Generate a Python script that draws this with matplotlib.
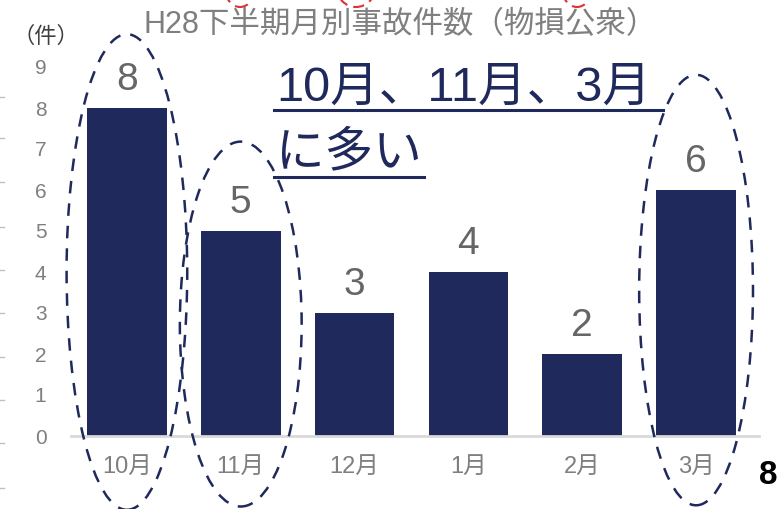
import matplotlib
matplotlib.use('Agg')
import matplotlib.pyplot as plt
from matplotlib.patches import Ellipse
from matplotlib.lines import Line2D

plt.rcParams['font.family'] = ['Liberation Sans', 'Noto Sans CJK JP', 'DejaVu Sans']

months = ['10月', '11月', '12月', '1月', '2月', '3月']
counts = [8, 5, 3, 4, 2, 6]
yticks = [0, 1, 2, 3, 4, 5, 6, 7, 8, 9]
title = 'H28下半期月別事故件数（物損公衆）'
note_lines = ['10月、11月、3月', 'に多い']
# circled months: (category index, centre y, width, height) in data units
circles = [(0, 4.0, 1.06, 11.6), (1, 2.73, 1.07, 8.9), (5, 3.56, 1.0, 10.5)]

NAVY = '#1f295b'
GRAY = '#7f7f7f'

W, H = 778, 509
fig = plt.figure(figsize=(W / 100, H / 100), dpi=100)
ax = fig.add_axes([70 / W, (H - 436) / H, 683 / W, 369 / H])

x = list(range(len(months)))
bars = ax.bar(x, counts, width=0.7, color=NAVY, zorder=2)
for b, v in zip(bars, counts):
    ax.text(b.get_x() + b.get_width() / 2, v + 0.25, str(v), ha='center', va='bottom',
            fontsize=28, color='#666666')

ax.set_xlim(-0.5, 5.5)
ax.set_ylim(0, 9)
ax.set_yticks(yticks)
ax.set_xticks(x)
ax.set_xticklabels(months)
ax.tick_params(axis='both', length=0, labelcolor=GRAY)
ax.tick_params(axis='y', pad=17, labelsize=15)
ax.tick_params(axis='x', pad=14, labelsize=17)
for s in ['top', 'right', 'left']:
    ax.spines[s].set_visible(False)
ax.spines['bottom'].set_color('#d9d9d9')
ax.spines['bottom'].set_linewidth(2)
ax.spines['bottom'].set_bounds(-0.49, 5.55)

for i, cy, w, h in circles:
    e = Ellipse((i, cy), w, h, fill=False, edgecolor=NAVY, linewidth=1.8,
                linestyle=(0, (5, 4)), clip_on=False, zorder=3)
    ax.add_patch(e)

fig.text(400 / W, 1 - 25 / H, title, ha='center', va='center', fontsize=22, color=GRAY)
fig.text(46 / W, 1 - 37 / H, '（件）', ha='center', va='center', fontsize=16, color='#404040')

# underlined note
t1 = fig.text(276 / W, 1 - 88 / H, note_lines[0], ha='left', va='center', fontsize=35, color=NAVY)
t2 = fig.text(276 / W, 1 - 154 / H, note_lines[1], ha='left', va='center', fontsize=35, color=NAVY)
fig.canvas.draw()
r = fig.canvas.get_renderer()
for t, yl, extra in [(t1, 110, 12), (t2, 177, 2)]:
    bb = t.get_window_extent(r)
    fig.add_artist(Line2D([274 / W, (bb.x1 + extra) / W], [1 - yl / H] * 2,
                          color=NAVY, linewidth=2.2))

# slide decorations: page number, stray tick marks, red circles above
fig.text(777 / W, 1 - 476 / H, '8', ha='right', va='center', fontsize=24,
         color='black', fontweight='bold')
for yy in [97, 138, 182, 227, 270, 313, 357, 400, 443, 488]:
    fig.add_artist(Line2D([0, 4 / W], [1 - yy / H] * 2, color='#c0c0c0', linewidth=1))
for cx, w in [(240, 30), (356, 38), (577, 30)]:
    e = Ellipse((cx / W, 1 + 12 / H), w / W, 38 / H, fill=False, edgecolor='#e03030',
                linewidth=1.5, linestyle=(0, (4, 3)), transform=fig.transFigure)
    fig.add_artist(e)

fig.savefig('out.png', dpi=100)
